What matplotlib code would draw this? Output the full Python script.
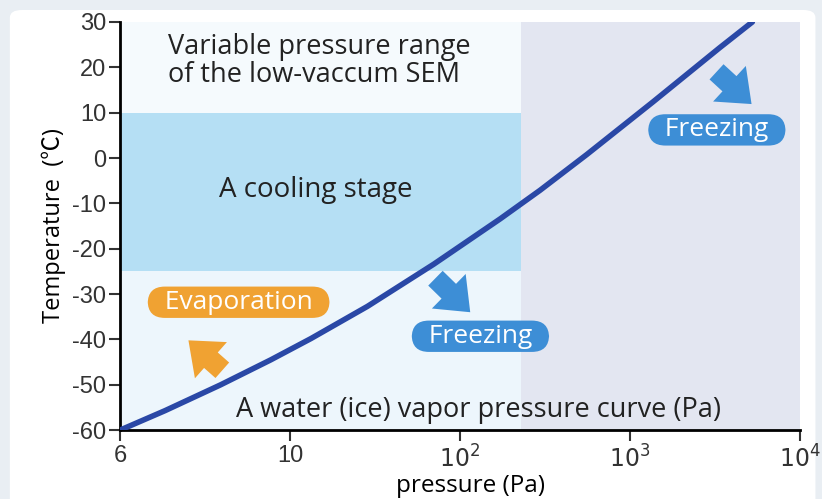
import numpy as np
import matplotlib.pyplot as plt
from matplotlib.patches import FancyBboxPatch

plt.rcParams["axes.unicode_minus"] = False

# curve: pressure (Pa) vs temperature (C)
pressure = [6, 6.87, 8.12, 9.44, 13.3, 28.6, 70.2, 172.8, 296.5, 557, 1371, 3373, 5260]
temperature = [-60, -55.7, -50.0, -44.5, -39.8, -32.7, -23.4, -13.4, -7.1, 0.75, 12.4, 24.3, 30]

sem_limit = 230          # upper pressure of the low-vacuum SEM range
cooling_range = (-25, 10)

xticks = [6, 10, 100, 1000, 10000]
xtick_labels = ["6", "10", "$10^2$", "$10^3$", "$10^4$"]
yticks = list(range(-60, 31, 10))

# the axis puts 6..10 on one full decade, then plain log
L6 = np.log10(6)


def fwd(p):
    p = np.clip(np.asarray(p, dtype=float), 1e-3, None)
    lp = np.log10(p)
    return np.where(p >= 10, lp, (lp - L6) / (1 - L6))


def inv(v):
    v = np.asarray(v, dtype=float)
    return np.where(v >= 1, 10.0 ** v, 10.0 ** (L6 + v * (1 - L6)))


fig = plt.figure(figsize=(8.22, 4.99), dpi=100, facecolor="#e9eef3")
panel = FancyBboxPatch((0.012, -0.05), 0.98, 1.03, transform=fig.transFigure,
                       boxstyle="round,pad=0,rounding_size=0.015",
                       facecolor="white", edgecolor="none", zorder=-10)
fig.patches.append(panel)

ax = fig.add_axes([0.146, 0.138, 0.827, 0.818])
ax.set_facecolor("none")
ax.set_xscale("function", functions=(fwd, inv))
ax.set_xlim(6, 10000)
ax.set_ylim(-60, 30)

# background areas
ax.axvspan(6, sem_limit, color="#edf6fc", zorder=0, lw=0)
ax.fill_between([6, sem_limit], 10, 30, color="#f5fafd", zorder=0, lw=0)
ax.axvspan(sem_limit, 10000, color="#e3e6f1", zorder=0, lw=0)
ax.fill_between([6, sem_limit], cooling_range[0], cooling_range[1],
                color="#b5dff4", zorder=0.5, lw=0)

ax.plot(pressure, temperature, color="#2a48a6", lw=4, solid_capstyle="round",
        solid_joinstyle="round", zorder=3)

# axes styling
for s in ["top", "right"]:
    ax.spines[s].set_visible(False)
ax.spines["left"].set_linewidth(2)
ax.spines["bottom"].set_linewidth(2)
ax.set_xticks(xticks)
ax.set_xticklabels(xtick_labels)
ax.xaxis.set_minor_locator(plt.NullLocator())
ax.set_yticks(yticks)
ax.tick_params(axis="both", length=8, width=1.5, labelsize=17, colors="#333333", pad=2)
ax.tick_params(axis="x", pad=3)
for lab in ax.get_xticklabels() + ax.get_yticklabels():
    lab.set_family("Liberation Sans")
ax.set_ylabel("Temperature  (℃)", fontsize=17,
              family=["Open Sans", "Noto Sans CJK JP", "DejaVu Sans"], labelpad=4)
ax.set_xlabel("pressure (Pa)", fontsize=17.5, family="Open Sans")
ax.xaxis.set_label_coords(0.515, -0.108)

txt = dict(family="Open Sans", color="#222222")
ax.text(6.94, 27.5, "Variable pressure range\nof the low-vaccum SEM", fontsize=19.5,
        va="top", ha="left", linespacing=1.0, **txt)
ax.text(14.2, -7, "A cooling stage", fontsize=20, ha="center", va="center", **txt)
ax.text(128, -55.6, "A water (ice) vapor pressure curve (Pa)", fontsize=19.5,
        ha="center", va="center", **txt)

pill = "round,pad=0.12,rounding_size=0.65"
ax.text(8.57, -31.8, "  Evaporation  ", fontsize=19, ha="center", va="center",
        color="white", family="Open Sans", zorder=4,
        bbox=dict(boxstyle=pill, fc="#f0a232", ec="none"))
for xp, yp in [(132, -39.3), (3250, 6.2)]:
    ax.text(xp, yp, "  Freezing  ", fontsize=19, ha="center", va="center",
            color="white", family="Open Sans", zorder=4,
            bbox=dict(boxstyle=pill, fc="#3d8ed6", ec="none"))

arrow = "simple,head_length=0.9,head_width=1.45,tail_width=0.62"
arrows = [((7.37, -40.2), (8.16, -46.8), "#f0a232"),
          ((115, -34.0), (71.8, -26.5), "#3d8ed6"),
          ((5200, 11.9), (3236, 19.0), "#3d8ed6")]
for head, tail, col in arrows:
    ax.annotate("", xy=head, xytext=tail, zorder=4,
                arrowprops=dict(arrowstyle=arrow, color=col, mutation_scale=24,
                                lw=0, shrinkA=0, shrinkB=0))

fig.savefig("out.png", dpi=100, facecolor=fig.get_facecolor())
